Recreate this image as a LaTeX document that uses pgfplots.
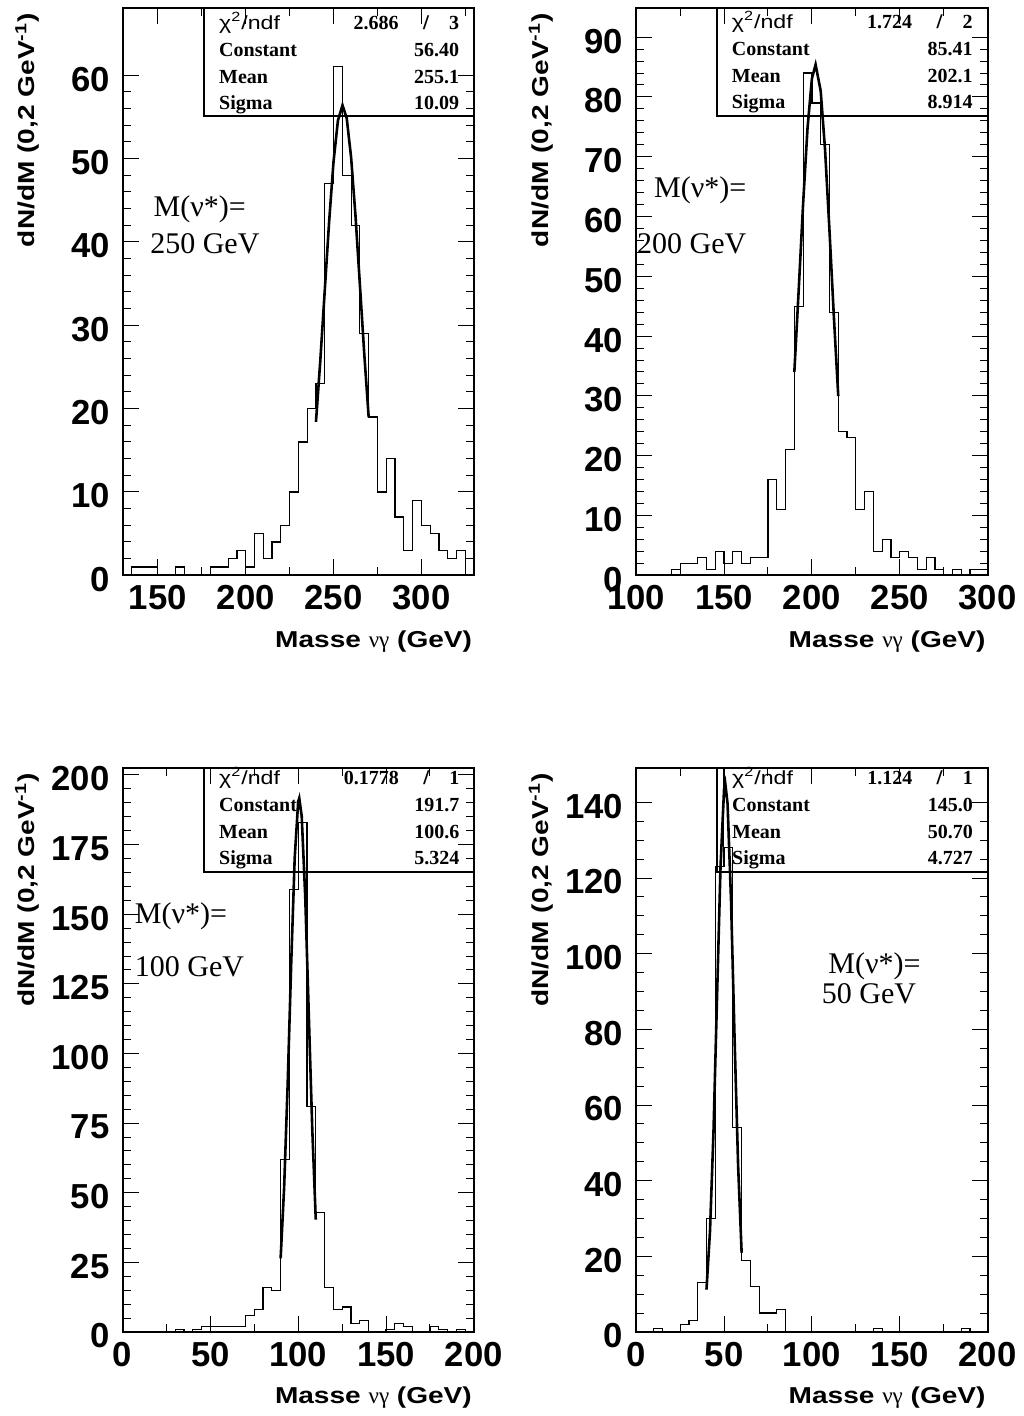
\documentclass[border=0pt]{standalone}
\usepackage{pgfplots}
\pgfplotsset{compat=1.18}
\usepackage{fontspec}
\setmainfont{Liberation Serif}
\setsansfont{Liberation Sans}
\newfontfamily\labfont[FakeStretch=1.22]{Liberation Sans}

\newcommand\tickfont{\fontsize{17.35}{20}\selectfont\sffamily\bfseries}
\newcommand\axlabfont{\fontsize{11.5}{13}\selectfont\labfont\bfseries}
\newcommand\annfont{\fontsize{15}{18}\selectfont\rmfamily\mdseries}
\newcommand\statfont{\fontsize{10}{12}\selectfont\rmfamily\bfseries}
\newcommand\chifont{\fontsize{9.5}{11}\selectfont\labfont\mdseries}

\pgfplotsset{
  rootaxis/.style={
    scale only axis, anchor=south west,
    enlargelimits=false,
    axis line style={line width=1pt},
    every tick/.style={line width=0.5pt, black},
    major tick length=8pt, minor tick length=4pt,
    tick align=inside,
    /pgf/number format/assume math mode=true,
    tick label style={font=\tickfont},
    xticklabel style={anchor=north, inner sep=0pt, yshift=-5pt},
    yticklabel style={anchor=east, inner sep=0pt, xshift=-6.35pt, yshift=-2pt},
    xlabel={Masse {\rmfamily\mdseries νγ} (GeV)},
    ylabel={dN/dM (0,2 GeV\textsuperscript{-1})},
    xlabel style={at={(axis description cs:1,0)}, anchor=base east, inner sep=0pt, yshift=-36pt, xshift=-0.85pt, font=\axlabfont},
    ylabel style={anchor=base east, inner sep=0pt, font=\axlabfont},
  },
  hist/.style={const plot mark left, black, line width=0.6pt, mark=none},
  fit/.style={black, line width=1.3pt, mark=none},
}

\newcommand\statframe[5]{%
  \draw[line width=1pt] (#1,#3) -- (#1,#4) -- (#2,#4);
  \node[anchor=base west,inner sep=0pt,font=\chifont] at (#1+14.5,#5) {χ\textsuperscript{2}/ndf};
  \node[anchor=base west,inner sep=0pt,font=\statfont] at (#1+14.5,#5-26.9) {Constant};
  \node[anchor=base west,inner sep=0pt,font=\statfont] at (#1+14.5,#5-53.8) {Mean};
  \node[anchor=base west,inner sep=0pt,font=\statfont] at (#1+14.5,#5-80.7) {Sigma};
}
\newcommand\statvals[7]{%
  \node[anchor=base east,inner sep=0pt,font=\statfont] at (#1-75,#2) {#3};
  \node[anchor=base,inner sep=0pt,font=\chifont] at (#1-48,#2) {/};
  \node[anchor=base east,inner sep=0pt,font=\statfont] at (#1-14.5,#2) {#4};
  \node[anchor=base east,inner sep=0pt,font=\statfont] at (#1-14.5,#2-26.9) {#5};
  \node[anchor=base east,inner sep=0pt,font=\statfont] at (#1-14.5,#2-53.8) {#6};
  \node[anchor=base east,inner sep=0pt,font=\statfont] at (#1-14.5,#2-80.7) {#7};
}

\begin{document}
\begin{tikzpicture}[x=0.5pt,y=0.5pt]
\path[use as bounding box, fill=white] (0,0) rectangle (1023,1416);

% ---------------- Panel 1: 250 GeV ----------------
\begin{axis}[rootaxis, at={(61.35pt,420.35pt)}, width=175.7pt, height=283.4pt,
  xmin=130, xmax=330, ymin=0, ymax=68,
  xtick={150,200,250,300}, minor xtick={175,225,275,325},
  ytick={0,10,...,60}, minor y tick num=4,
  ylabel style={at={(axis description cs:-0.2496,0.992)}}]
\addplot[hist] table {
x y
130 0
130 0
135 1
140 1
145 1
150 0
155 0
160 1
165 0
170 0
175 0
180 1
185 1
190 2
195 3
200 1
205 5
210 2
215 4
220 6
225 10
230 16
235 20
240 23
245 47
250 61
255 48
260 42
265 29
270 19
275 10
280 14
285 7
290 3
295 9
300 6
305 5
310 3
315 2
320 3
325 0
330 0
};
\addplot[fit] coordinates {(240,18.41)(242.5,25.87)(245,34.17)(247.5,42.47)(250,49.64)(252.5,54.56)(255.1,56.40)(257.5,54.83)(260,50.13)(262.5,43.10)(265,34.85)(267.5,26.51)(270,18.96)};
\node[anchor=base west,inner sep=0pt,font=\annfont] at (axis cs:147.4,43.0) {M(ν*)=};
\node[anchor=base west,inner sep=0pt,font=\annfont] at (axis cs:145.5,38.6) {250 GeV};
\end{axis}
\statframe{204.3}{474}{1407.5}{1300}{1386.7}
\statvals{474}{1386.7}{2.686}{3}{56.40}{255.1}{10.09}

% ---------------- Panel 2: 200 GeV ----------------
\begin{axis}[rootaxis, at={(318.1pt,420.35pt)}, width=175.7pt, height=283.4pt,
  xmin=100, xmax=300, ymin=0, ymax=94.8,
  xtick={100,150,200,250,300}, minor xtick={125,175,225,275},
  ytick={0,10,...,90}, minor y tick num=4,
  ylabel style={at={(axis description cs:-0.2496,0.992)}}]
\addplot[hist] table {
x y
100 0
100 0
105 0
110 0
115 0
120 1
125 2
130 2
135 3
140 1
145 4
150 2
155 4
160 2
165 3
170 3
175 16
180 11
185 21
190 45
195 84
200 79
205 72
210 44
215 24
220 23
225 11
230 14
235 4
240 6
245 3
250 4
255 3
260 1
265 3
270 1
275 0
280 1
285 0
290 1
295 1
300 1
300 0
};
\addplot[fit] coordinates {(190,33.99)(192.5,47.82)(195,62.20)(197.5,74.77)(200,83.07)(202.1,85.41)(205,81.01)(207.5,71.10)(210,57.67)(212.5,43.24)(215,29.97)};
\node[anchor=base west,inner sep=0pt,font=\annfont] at (axis cs:110.0,63.15) {M(ν*)=};
\node[anchor=base west,inner sep=0pt,font=\annfont] at (axis cs:100.3,53.9) {200 GeV};
\end{axis}
\statframe{717}{987.6}{1407.5}{1299.5}{1387.7}
\statvals{987.6}{1387.7}{1.724}{2}{85.41}{202.1}{8.914}

% ---------------- Panel 3: 100 GeV ----------------
\begin{axis}[rootaxis, at={(61.25pt,42pt)}, width=175.7pt, height=281.85pt,
  xmin=0, xmax=200, ymin=0, ymax=202.4,
  xtick={0,50,100,150,200}, minor xtick={25,75,125,175},
  ytick={0,25,...,200}, minor y tick num=4,
  ylabel style={at={(axis description cs:-0.2496,0.992)}}]
\addplot[hist] table {
x y
0 0
0 0
5 0
10 0
15 0
20 0
25 0
30 1
35 0
40 1
45 2
50 2
55 2
60 2
65 2
70 6
75 8
80 16
85 15
90 62
95 159
100 183
105 81
110 43
115 16
120 8
125 9
130 3
135 4
140 0
145 0
150 1
155 3
160 2
165 0
170 0
175 2
180 1
185 0
190 1
195 0
200 0
};
\addplot[fit] coordinates {(90,26.42)(92,52.01)(94,88.91)(96,131.99)(98,170.13)(100,190.49)(100.6,191.7)(102,185.18)(104,156.33)(106,114.62)(108,72.96)(110,40.33)};
\node[anchor=base west,inner sep=0pt,font=\annfont] at (axis cs:6.8,146.75) {M(ν*)=};
\node[anchor=base west,inner sep=0pt,font=\annfont] at (axis cs:6.8,127.6) {100 GeV};
\end{axis}
\statframe{204.3}{474.3}{647.7}{543.7}{631.7}
\statvals{474.3}{631.7}{0.1778}{1}{191.7}{100.6}{5.324}

% ---------------- Panel 4: 50 GeV ----------------
\begin{axis}[rootaxis, at={(318.1pt,42pt)}, width=175.7pt, height=281.85pt,
  xmin=0, xmax=200, ymin=0, ymax=149,
  xtick={0,50,100,150,200}, minor xtick={25,75,125,175},
  ytick={0,20,...,140}, minor y tick num=3,
  ylabel style={at={(axis description cs:-0.2496,0.992)}}]
\addplot[hist] table {
x y
0 0
0 0
5 0
10 1
15 0
20 0
25 2
30 3
35 13
40 30
45 123
50 128
55 54
60 19
65 12
70 5
75 5
80 6
85 0
90 0
95 0
100 0
105 0
110 0
115 0
120 0
125 0
130 0
135 1
140 0
145 0
150 0
155 0
160 0
165 0
170 0
175 0
180 0
185 1
190 0
195 0
200 0
};
\addplot[black, line width=0.6pt] coordinates {(46.2,123)(46.2,160)(49.8,160)(49.8,123)};
\addplot[fit] coordinates {(40,11.19)(42,26.67)(44,53.10)(46,88.45)(48,123.18)(50,143.42)(50.7,145.0)(52,139.62)(54,113.64)(56,77.34)(58,44.01)(60,20.94)};
\node[anchor=base west,inner sep=0pt,font=\annfont] at (axis cs:109.2,94.8) {M(ν*)=};
\node[anchor=base west,inner sep=0pt,font=\annfont] at (axis cs:105.5,86.8) {50 GeV};
\end{axis}
\statframe{717.3}{987.7}{647.7}{543.7}{631.7}
\statvals{987.7}{631.7}{1.124}{1}{145.0}{50.70}{4.727}
\end{tikzpicture}
\end{document}
